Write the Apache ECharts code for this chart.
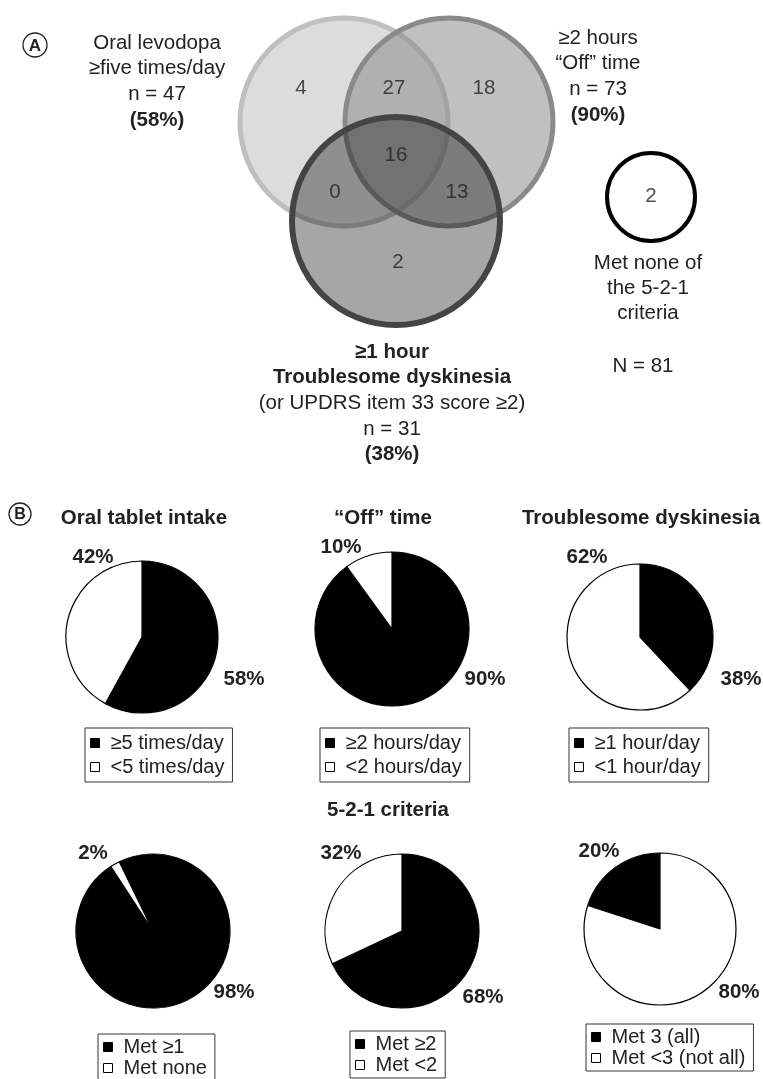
<!DOCTYPE html>
<html>
<head>
<meta charset="utf-8">
<script src="https://cdn.jsdelivr.net/npm/echarts@6/dist/echarts.min.js"></script>
<style>
  html, body { margin: 0; padding: 0; background: #fff; }
  #chart { width: 763px; height: 1079px; }
</style>
</head>
<body>
<div id="chart"></div>
<script>
// ---- data ----
const setNames = [['Oral levodopa', '\u2265five times/day'], ['\u22652 hours', '\u201cOff\u201d time'], ['\u22651 hour', 'Troublesome dyskinesia']]
const setN = [47, 73, 31]
const setPct = [58, 90, 38]
const vennCounts = [4, 27, 18, 16, 0, 13, 2]   // 1 only, 1&2, 2 only, all, 1&3, 2&3, 3 only
const noneCount = 2
const totalN = 81

const pieTitles = ['Oral tablet intake', '\u201cOff\u201d time', 'Troublesome dyskinesia']
const pieMet = [58, 90, 38, 98, 68, 20]
const pieNotMet = [42, 10, 62, 2, 32, 80]
const metNames = ['\u22655 times/day', '\u22652 hours/day', '\u22651 hour/day', 'Met \u22651', 'Met \u22652', 'Met 3 (all)']
const notMetNames = ['<5 times/day', '<2 hours/day', '<1 hour/day', 'Met none', 'Met <2', 'Met <3 (not all)']

// ---- layout ----
const FONT = 'Liberation Sans, Arial, Helvetica, sans-serif'
const FS = 20.5
const vennCircles = [[344, 122, 104], [449, 122, 104], [396, 221, 104], [651, 197, 44]]
const vennStyle = [
  { fill: '#dcdcdc', stroke: '#bfbfbf', width: 5 },
  { fill: 'rgba(139,139,139,0.54)', stroke: '#8a8a8a', width: 5 },
  { fill: 'rgba(0,0,0,0.35)', stroke: '#444', width: 6 },
  { fill: 'rgba(255,255,255,0)', stroke: '#000', width: 4 }
]
const vennLabelPos = [[301, 88], [394, 88], [484, 88], [396, 155], [335, 192], [457, 192], [398, 262]]
const nonePos = [651, 196]

const pieCenters = [[142, 637], [392, 629], [640, 637], [153, 931], [402, 931], [660, 929]]
const pieRadius = [76, 77, 73, 77, 77, 76]
const pieStart = [90, 90, 90, 116, 90, 162]
const lowRightOff = [[102, 42], [93, 50], [101, 42], [81, 61], [81, 66], [79, 63]]
const upLeftOff = [[-49, -80], [-51, -82], [-53, -80], [-60, -78], [-61, -78], [-61, -78]]
const metLabelLowRight = [true, true, true, true, true, false]
const legendPos = [[85, 728], [320, 728], [569, 728], [98, 1034], [350, 1031], [586, 1024]]

const chart = echarts.init(document.getElementById('chart'))

const txt = (x, y, text, opts) => ({
  type: 'text', x: x, y: y, silent: true,
  style: Object.assign({
    text: text, font: FS + 'px ' + FONT, fill: '#222',
    textAlign: 'center', textVerticalAlign: 'middle'
  }, opts || {})
})
const bold = { font: 'bold ' + FS + 'px ' + FONT }

const block = (x, y, lines, lh) => lines.map((l, i) => txt(x, y + i * lh, l.t, l.b ? bold : {}))

const graphics = [
  // panel letters
  { type: 'circle', shape: { cx: 35, cy: 45, r: 12 }, style: { fill: 'none', stroke: '#222', lineWidth: 1.3 } },
  txt(35, 46, 'A', { font: 'bold 17px ' + FONT }),
  { type: 'circle', shape: { cx: 20, cy: 514, r: 11 }, style: { fill: 'none', stroke: '#222', lineWidth: 1.3 } },
  txt(20, 515, 'B', { font: 'bold 16px ' + FONT })
]
  .concat(block(157, 43, [{ t: setNames[0][0] }, { t: setNames[0][1] }, { t: 'n = ' + setN[0] }, { t: '(' + setPct[0] + '%)', b: 1 }], 25.7))
  .concat(block(598, 38, [{ t: setNames[1][0] }, { t: setNames[1][1] }, { t: 'n = ' + setN[1] }, { t: '(' + setPct[1] + '%)', b: 1 }], 25.7))
  .concat(block(392, 352, [{ t: setNames[2][0], b: 1 }, { t: setNames[2][1], b: 1 }, { t: '(or UPDRS item 33 score \u22652)' }, { t: 'n = ' + setN[2] }, { t: '(' + setPct[2] + '%)', b: 1 }], 25.7))
  .concat(block(648, 263, [{ t: 'Met none of' }, { t: 'the 5-2-1' }, { t: 'criteria' }], 25))
  .concat([txt(643, 366, 'N = ' + totalN)])
  .concat([txt(144, 518, pieTitles[0], bold),
           txt(383, 518, pieTitles[1], bold),
           txt(641, 518, pieTitles[2], bold),
           txt(388, 810, '5-2-1 criteria', bold)])

const series = [
  {
    type: 'custom',
    coordinateSystem: 'cartesian2d',
    silent: true,
    data: vennCircles,
    renderItem: (params, api) => {
      const c = api.coord([api.value(0), api.value(1)])
      const r = api.size([api.value(2), 0])[0]
      const st = vennStyle[params.dataIndex]
      return { type: 'circle', shape: { cx: c[0], cy: c[1], r: r }, style: { fill: st.fill, stroke: st.stroke, lineWidth: st.width } }
    }
  },
  {
    type: 'scatter',
    silent: true,
    symbolSize: 0,
    data: vennCounts.map((v, i) => [vennLabelPos[i][0], vennLabelPos[i][1], v]).concat([[nonePos[0], nonePos[1], noneCount]]),
    label: {
      show: true, position: 'inside', formatter: p => String(p.value[2]),
      fontSize: FS, fontFamily: FONT, color: '#222'
    }
  }
]

pieMet.forEach((v, i) => {
  const c = pieCenters[i]
  series.push({
    type: 'pie',
    silent: true,
    center: c,
    radius: pieRadius[i],
    startAngle: pieStart[i],
    clockwise: true,
    avoidLabelOverlap: false,
    emphasis: { disabled: true },
    itemStyle: { borderColor: '#000', borderWidth: 1.2 },
    label: {
      show: true, position: 'inside', formatter: '{c}%',
      fontFamily: FONT, fontSize: FS, fontWeight: 'bold', color: '#222'
    },
    labelLine: { show: false },
    labelLayout: p => {
      const lowRight = (p.dataIndex === 0) === metLabelLowRight[i]
      const off = lowRight ? lowRightOff[i] : upLeftOff[i]
      return { x: c[0] + off[0], y: c[1] + off[1], align: 'center', verticalAlign: 'middle' }
    },
    data: [
      { name: metNames[i], value: v, itemStyle: { color: '#000' } },
      { name: notMetNames[i], value: pieNotMet[i], itemStyle: { color: '#fff' } }
    ]
  })
})

const legends = pieMet.map((v, i) => {
  const top = i < 3
  return {
    orient: 'vertical',
    left: legendPos[i][0],
    top: legendPos[i][1],
    height: 60,
    selectedMode: false,
    borderColor: '#333',
    borderWidth: 1,
    borderRadius: 0,
    padding: top ? [5, 8, 5, 5] : [3, 8, 3, 5],
    itemGap: top ? 4 : 1,
    itemWidth: 9,
    itemHeight: 9,
    icon: 'rect',
    itemStyle: { borderColor: '#000', borderWidth: 1 },
    textStyle: { fontFamily: FONT, fontSize: 20, lineHeight: 20, color: '#222', padding: [0, 0, 0, 6] },
    data: [metNames[i], notMetNames[i]]
  }
})

const option = {
  animation: false,
  grid: { left: 0, right: 0, top: 0, bottom: 0 },
  xAxis: { type: 'value', min: 0, max: 763, show: false },
  yAxis: { type: 'value', min: 0, max: 1079, inverse: true, show: false },
  legend: legends,
  graphic: graphics,
  series: series
}

chart.setOption(option)
</script>
</body>
</html>
